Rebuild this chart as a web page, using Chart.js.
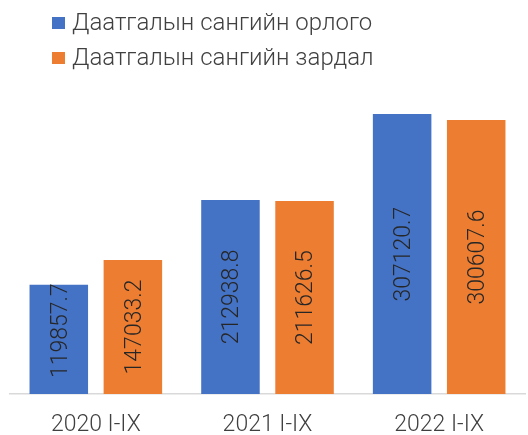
<!DOCTYPE html>
<html>
<head>
<meta charset="utf-8">
<script src="https://cdn.jsdelivr.net/npm/chart.js@4"></script>
<style>
  html, body { margin: 0; padding: 0; background: #fff; }
  #wrap { width: 528px; height: 435px; }
</style>
</head>
<body>
<div id="wrap"><canvas id="chart" width="528" height="435"></canvas></div>
<script>
const categories = ['2020 I-IX', '2021 I-IX', '2022 I-IX'];
const seriesNames = ['Даатгалын сангийн орлого', 'Даатгалын сангийн зардал'];
const income = [119857.7, 212938.8, 307120.7];
const expense = [147033.2, 211626.5, 300607.6];
const colors = ['#4472C4', '#ED7D31'];

const FONT = '"Roboto Light", Roboto, "Noto Sans", sans-serif';

// legend drawn at top-left, stacked
const legendPlugin = {
  id: 'stackLegend',
  afterDraw(chart) {
    const ctx = chart.ctx;
    ctx.save();
    ctx.font = '300 24px ' + FONT;
    ctx.textBaseline = 'middle';
    ctx.textAlign = 'left';
    chart.data.datasets.forEach((ds, i) => {
      const y = 23 + i * 35;
      ctx.fillStyle = ds.backgroundColor;
      ctx.fillRect(52, y - 6, 13, 12);
      ctx.fillStyle = '#404040';
      ctx.fillText(ds.label, 72, y);
    });
    ctx.restore();
  }
};

// rotated value labels inside the bars
const valueLabels = {
  id: 'valueLabels',
  afterDatasetsDraw(chart) {
    const ctx = chart.ctx;
    ctx.save();
    ctx.font = '300 23px ' + FONT;
    ctx.fillStyle = '#262626';
    ctx.textAlign = 'center';
    ctx.textBaseline = 'middle';
    chart.data.datasets.forEach((ds, i) => {
      chart.getDatasetMeta(i).data.forEach((bar, j) => {
        const txt = String(ds.data[j]);
        const w = ctx.measureText(txt).width;
        let cy = (bar.y + bar.base) / 2;
        cy = Math.min(cy, bar.base - 16 - w / 2);
        ctx.save();
        ctx.translate(bar.x + 1, cy);
        ctx.rotate(-Math.PI / 2);
        ctx.fillText(txt, 0, 0);
        ctx.restore();
      });
    });
    ctx.restore();
  }
};

new Chart(document.getElementById('chart'), {
  type: 'bar',
  data: {
    labels: categories,
    datasets: [
      { label: seriesNames[0], data: income, backgroundColor: colors[0] },
      { label: seriesNames[1], data: expense, backgroundColor: colors[1] }
    ]
  },
  options: {
    responsive: false,
    animation: false,
    categoryPercentage: 0.863,
    barPercentage: 0.79,
    layout: { padding: { left: 10, right: 3, top: 75, bottom: 0 } },
    plugins: {
      legend: { display: false },
      tooltip: { enabled: false }
    },
    scales: {
      x: {
        grid: { display: false },
        border: { display: true, color: '#D9D9D9', width: 1.5 },
        ticks: { color: '#404040', font: { family: FONT, size: 23, weight: 300 }, padding: 8 },
        afterFit: s => { s.height = 41; }
      },
      y: {
        display: false,
        min: 0,
        max: 350000
      }
    }
  },
  plugins: [legendPlugin, valueLabels]
});
</script>
</body>
</html>
